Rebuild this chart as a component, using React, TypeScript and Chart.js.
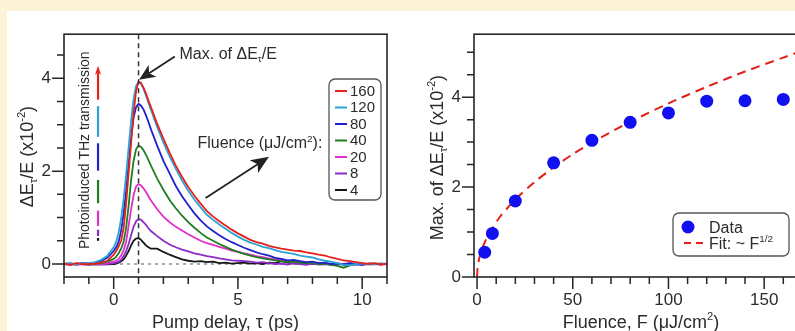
import React, { useEffect, useRef } from 'react';
import { Chart, registerables } from 'chart.js';

Chart.register(...registerables);

const FONT = '"Liberation Sans", Arial, Helvetica, sans-serif';
const INK = '#2b2b2b';
const PAGE_BG = '#fdf3d7';

// ---------------- Left panel: time traces ----------------
const TAU = [-2, -1.75, -1.5, -1.25, -1, -0.75, -0.5, -0.25, 0, 0.1, 0.2, 0.3, 0.4, 0.5, 0.6, 0.7, 0.8, 0.9, 1, 1.1, 1.2, 1.3, 1.4, 1.5, 1.75, 2, 2.25, 2.5, 2.75, 3, 3.25, 3.5, 3.75, 4, 4.25, 4.5, 4.75, 5, 5.25, 5.5, 5.75, 6, 6.25, 6.5, 6.75, 7, 7.25, 7.5, 7.75, 8, 8.25, 8.5, 8.75, 9, 9.25, 9.5, 9.75, 10, 10.25, 10.5, 10.75, 11];

const FLUENCE_LABELS = ['160', '120', '80', '40', '20', '8', '4'];
const SERIES_COLORS = ['#e6211b', '#2ba3d6', '#1f23c9', '#1e7d1e', '#e22fcc', '#8b2bc8', '#151515'];

const TRACE_160 = [0.01, -0.02, 0.02, -0.01, 0.0, 0.01, 0.03, 0.07,
  0.2, 0.28, 0.38, 0.5, 0.78, 1.3, 1.95, 2.6, 3.25, 3.72, 3.93, 3.9, 3.8, 3.67, 3.52, 3.38,
  3.02, 2.7, 2.4, 2.12, 1.88, 1.66, 1.47, 1.3, 1.14, 1.02, 0.92, 0.83, 0.74, 0.66, 0.59, 0.52, 0.47, 0.44, 0.39, 0.36, 0.33, 0.31, 0.29, 0.28, 0.25, 0.23, 0.2, 0.18, 0.14, 0.11, 0.08, 0.06, 0.04, 0.02, 0.0, 0.02, -0.01, 0.01];
const TRACE_120 = [0.0, 0.02, -0.01, 0.01, 0.02, 0.04, 0.09, 0.18,
  0.36, 0.48, 0.68, 0.98, 1.4, 1.92, 2.5, 3.08, 3.55, 3.84, 3.92, 3.88, 3.77, 3.63, 3.47, 3.32,
  2.95, 2.62, 2.32, 2.05, 1.8, 1.58, 1.39, 1.22, 1.06, 0.95, 0.85, 0.76, 0.67, 0.59, 0.52, 0.46, 0.42, 0.37, 0.34, 0.3, 0.26, 0.24, 0.22, 0.18, 0.16, 0.14, 0.1, 0.07, 0.05, 0.02, -0.02, -0.03, 0.0, 0.01, -0.01, 0.0, 0.01, -0.01];
const TRACE_80 = [-0.01, 0.01, 0.0, 0.02, 0.01, 0.03, 0.06, 0.14,
  0.28, 0.36, 0.48, 0.72, 1.08, 1.58, 2.15, 2.72, 3.15, 3.38, 3.45, 3.41, 3.33, 3.2, 3.06, 2.9,
  2.55, 2.22, 1.95, 1.68, 1.46, 1.27, 1.09, 0.94, 0.81, 0.71, 0.62, 0.54, 0.47, 0.41, 0.35, 0.3, 0.25, 0.21, 0.18, 0.13, 0.11, 0.08, 0.09, 0.06, 0.04, 0.05, 0.02, 0.03, 0.0, 0.01, -0.01, 0.02, 0.0, -0.02, 0.01, 0.0, -0.01, 0.01];
const TRACE_40 = [0.01, -0.01, 0.0, 0.01, -0.01, 0.01, 0.02, 0.05,
  0.11, 0.16, 0.23, 0.33, 0.48, 0.78, 1.25, 1.8, 2.22, 2.47, 2.55, 2.52, 2.45, 2.35, 2.24, 2.12,
  1.84, 1.6, 1.38, 1.2, 1.04, 0.9, 0.78, 0.67, 0.57, 0.5, 0.43, 0.37, 0.31, 0.26, 0.22, 0.18, 0.15, 0.12, 0.1, 0.08, 0.06, 0.04, 0.05, 0.03, 0.02, 0.03, 0.0, 0.01, -0.02, -0.04, -0.08, -0.03, 0.0, 0.01, -0.01, 0.0, 0.01, 0.0];
const TRACE_20 = [-0.01, 0.01, -0.02, 0.0, 0.01, -0.01, 0.0, 0.02,
  0.05, 0.07, 0.11, 0.18, 0.3, 0.48, 0.82, 1.18, 1.48, 1.67, 1.72, 1.69, 1.63, 1.55, 1.46, 1.37,
  1.18, 1.02, 0.9, 0.8, 0.72, 0.64, 0.57, 0.5, 0.45, 0.41, 0.37, 0.33, 0.29, 0.26, 0.23, 0.2, 0.17, 0.15, 0.12, 0.1, 0.09, 0.07, 0.05, 0.04, 0.03, 0.02, 0.03, 0.01, 0.0, 0.02, -0.01, 0.0, 0.01, -0.02, 0.0, 0.01, -0.01, 0.0];
const TRACE_8 = [0.0, -0.02, 0.01, -0.01, -0.02, 0.0, -0.01, 0.0,
  0.02, 0.03, 0.05, 0.09, 0.17, 0.28, 0.43, 0.62, 0.8, 0.92, 0.97, 0.95, 0.9, 0.84, 0.77, 0.71,
  0.6, 0.5, 0.42, 0.36, 0.31, 0.27, 0.23, 0.2, 0.17, 0.15, 0.12, 0.1, 0.08, 0.07, 0.06, 0.05, 0.03, 0.04, 0.02, 0.0, 0.01, -0.01, 0.02, 0.0, -0.02, 0.01, -0.01, 0.0, -0.02, 0.01, -0.01, 0.0, -0.02, 0.01, 0.0, -0.01, 0.01, -0.01];
const TRACE_4 = [0.01, 0.0, -0.01, 0.01, 0.0, -0.01, 0.0, -0.01,
  0.0, 0.01, 0.03, 0.06, 0.1, 0.18, 0.28, 0.4, 0.5, 0.55, 0.56, 0.52, 0.46, 0.4, 0.36, 0.33,
  0.33, 0.26, 0.2, 0.15, 0.1, 0.07, 0.05, 0.06, 0.04, 0.05, 0.02, 0.03, 0.01, 0.02, 0.03, 0.01, 0.02, 0.0, 0.03, 0.02, 0.06, 0.03, 0.01, 0.02, 0.0, 0.01, -0.01, 0.0, 0.01, -0.01, 0.0, 0.01, 0.0, -0.01, 0.01, 0.0, -0.01, 0.0];
const TRACES = [TRACE_160, TRACE_120, TRACE_80, TRACE_40, TRACE_20, TRACE_8, TRACE_4];

const PEAK_DELAY = 1;
const TAU_RANGE = [-2, 11];
const LEFT_Y_RANGE = [-0.28, 4.95];

// ---------------- Right panel: peak vs fluence ----------------
const FLUENCE = [4, 8, 20, 40, 60, 80, 100, 120, 140, 160];
const MAX_DE = [0.55, 0.97, 1.69, 2.54, 3.04, 3.44, 3.65, 3.91, 3.92, 3.95];
const FIT_F = [0, 0.25, 0.5, 1, 2, 3, 4, 6, 8, 12, 16, 20, 30, 40, 50, 60, 80, 100, 120, 140, 160, 175];
const FIT_Y = [0, 0.19, 0.27, 0.39, 0.55, 0.67, 0.77, 0.95, 1.09, 1.34, 1.54, 1.73, 2.11, 2.44, 2.73, 2.99, 3.45, 3.86, 4.23, 4.57, 4.88, 5.11];
const F_RANGE = [-1.6, 175];
const RIGHT_Y_RANGE = [0, 5.4];

// ---------------- helpers ----------------
type Seg = [string, number]; // 0 normal, 1 superscript, -1 subscript

function drawRich(ctx: CanvasRenderingContext2D, segs: Seg[], x: number, y: number, size: number, align: 'left' | 'center', color = INK) {
  const small = size * 0.62;
  const widths = segs.map(([t, m]) => {
    ctx.font = `${m ? small : size}px ${FONT}`;
    return ctx.measureText(t).width;
  });
  const total = widths.reduce((p, c) => p + c, 0);
  let cx = align === 'center' ? x - total / 2 : x;
  ctx.textAlign = 'left';
  ctx.textBaseline = 'alphabetic';
  ctx.fillStyle = color;
  segs.forEach(([t, m], i) => {
    ctx.font = `${m ? small : size}px ${FONT}`;
    const dy = m === 1 ? -size * 0.42 : m === -1 ? size * 0.22 : 0;
    ctx.fillText(t, cx, y + dy);
    cx += widths[i];
  });
}

function drawArrow(ctx: CanvasRenderingContext2D, x1: number, y1: number, x2: number, y2: number, color: string, lw: number, headLen: number, headHalf: number) {
  const ang = Math.atan2(y2 - y1, x2 - x1);
  const c = Math.cos(ang), s = Math.sin(ang);
  const bx = x2 - headLen * c, by = y2 - headLen * s;
  const nx = x2 - headLen * 0.75 * c, ny = y2 - headLen * 0.75 * s;
  ctx.strokeStyle = color;
  ctx.lineWidth = lw;
  ctx.setLineDash([]);
  ctx.beginPath();
  ctx.moveTo(x1, y1);
  ctx.lineTo(nx, ny);
  ctx.stroke();
  ctx.fillStyle = color;
  ctx.beginPath();
  ctx.moveTo(x2, y2);
  ctx.lineTo(bx + headHalf * s, by - headHalf * c);
  ctx.lineTo(nx, ny);
  ctx.lineTo(bx - headHalf * s, by + headHalf * c);
  ctx.closePath();
  ctx.fill();
}

function drawFrameAndTicks(chart: any, xMajor: (v: number) => boolean, yMajor: (v: number) => boolean) {
  const { ctx, chartArea: a, scales: { x, y } } = chart;
  ctx.save();
  ctx.setLineDash([]);
  ctx.strokeStyle = '#262626';
  ctx.lineWidth = 1.6;
  ctx.strokeRect(a.left, a.top, a.right - a.left, a.bottom - a.top);
  ctx.lineWidth = 1.5;
  ctx.beginPath();
  x.ticks.forEach((t: any) => {
    const px = x.getPixelForValue(t.value);
    const len = xMajor(t.value) ? 12 : 7;
    ctx.moveTo(px, a.bottom);
    ctx.lineTo(px, a.bottom + len);
  });
  y.ticks.forEach((t: any) => {
    const py = y.getPixelForValue(t.value);
    const len = yMajor(t.value) ? 12 : 7;
    ctx.moveTo(a.left - len, py);
    ctx.lineTo(a.left, py);
  });
  ctx.stroke();
  ctx.restore();
}

const isMult = (v: number, m: number) => Math.abs(v / m - Math.round(v / m)) < 1e-6;

// Annotation anchors (data coordinates of the left panel)
const MAX_TEXT_AT = { x: 2.65, y: 4.42 };
const MAX_ARROW = { from: { x: 2.46, y: 4.47 }, to: { x: 1.02, y: 3.97 } };
const FLU_TEXT_AT = { x: 3.37, y: 2.49 };
const FLU_ARROW = { from: { x: 3.7, y: 1.42 }, to: { x: 6.25, y: 2.31 } };
const PHOTO_TEXT_AT = { x: -1.0, y: 2.45 };
const TREND_X = -0.63;
// segments of the coloured "photoinduced" arrow, bottom (4) to top (160)
const TREND_SEGMENTS: [number, number][] = [[0.5, 0.56], [0.6, 0.74], [0.82, 1.15], [1.31, 1.81], [2.01, 2.6], [2.74, 3.4], [3.54, 4.27]];

const leftDecor = {
  id: 'leftDecor',
  beforeDatasetsDraw(chart: any) {
    const { ctx, chartArea: a, scales: { y } } = chart;
    ctx.save();
    ctx.setLineDash([3, 4]);
    ctx.strokeStyle = '#555';
    ctx.lineWidth = 1.2;
    const y0 = y.getPixelForValue(0);
    ctx.beginPath();
    ctx.moveTo(a.left, y0);
    ctx.lineTo(a.right, y0);
    ctx.stroke();
    ctx.restore();
  },
  afterDatasetsDraw(chart: any) {
    const { ctx, chartArea: a, scales: { x, y } } = chart;
    ctx.save();
    // vertical dashed line at the peak
    ctx.setLineDash([5, 4]);
    ctx.strokeStyle = '#333';
    ctx.lineWidth = 1.5;
    const px = x.getPixelForValue(PEAK_DELAY);
    ctx.beginPath();
    ctx.moveTo(px, a.top);
    ctx.lineTo(px, a.bottom);
    ctx.stroke();
    ctx.restore();

    drawFrameAndTicks(chart, (v) => isMult(v, 5), (v) => isMult(v, 2));

    ctx.save();
    // Max. of annotation
    drawRich(ctx, [['Max. of ΔE', 0], ['τ', -1], ['/E', 0]], x.getPixelForValue(MAX_TEXT_AT.x), y.getPixelForValue(MAX_TEXT_AT.y), 16, 'left');
    drawArrow(ctx, x.getPixelForValue(MAX_ARROW.from.x), y.getPixelForValue(MAX_ARROW.from.y), x.getPixelForValue(MAX_ARROW.to.x), y.getPixelForValue(MAX_ARROW.to.y), '#222', 1.8, 16, 7);
    // Fluence annotation
    drawRich(ctx, [['Fluence (μJ/cm', 0], ['2', 1], ['):', 0]], x.getPixelForValue(FLU_TEXT_AT.x), y.getPixelForValue(FLU_TEXT_AT.y), 16, 'left');
    drawArrow(ctx, x.getPixelForValue(FLU_ARROW.from.x), y.getPixelForValue(FLU_ARROW.from.y), x.getPixelForValue(FLU_ARROW.to.x), y.getPixelForValue(FLU_ARROW.to.y), '#222', 1.8, 18, 7.5);

    // rotated "Photoinduced THz transmission"
    ctx.save();
    ctx.translate(x.getPixelForValue(PHOTO_TEXT_AT.x), y.getPixelForValue(PHOTO_TEXT_AT.y));
    ctx.rotate(-Math.PI / 2);
    drawRich(ctx, [['Photoinduced THz transmission', 0]], 0, 0, 14, 'center');
    ctx.restore();

    // coloured dashed trend arrow
    const tx = x.getPixelForValue(TREND_X);
    TREND_SEGMENTS.forEach(([lo, hi], i) => {
      const color = SERIES_COLORS[SERIES_COLORS.length - 1 - i];
      const y1 = y.getPixelForValue(lo), y2 = y.getPixelForValue(hi);
      if (i === TREND_SEGMENTS.length - 1) {
        drawArrow(ctx, tx, y1, tx, y2, color, 2.2, 9, 3);
      } else {
        ctx.setLineDash([]);
        ctx.strokeStyle = color;
        ctx.lineWidth = 2.2;
        ctx.beginPath();
        ctx.moveTo(tx, y1);
        ctx.lineTo(tx, y2);
        ctx.stroke();
      }
    });

    // legend box
    const bx = 322, by = 68, bw = 52, bh = 121;
    ctx.setLineDash([]);
    ctx.fillStyle = '#fff';
    ctx.strokeStyle = '#555';
    ctx.lineWidth = 1.3;
    ctx.beginPath();
    (ctx as any).roundRect(bx, by, bw, bh, 6);
    ctx.fill();
    ctx.stroke();
    FLUENCE_LABELS.forEach((lab, i) => {
      const ry = 80 + i * 16.5;
      ctx.strokeStyle = SERIES_COLORS[i];
      ctx.lineWidth = 2;
      ctx.beginPath();
      ctx.moveTo(328, ry);
      ctx.lineTo(340, ry);
      ctx.stroke();
      ctx.fillStyle = INK;
      ctx.font = `15px ${FONT}`;
      ctx.textAlign = 'left';
      ctx.textBaseline = 'middle';
      ctx.fillText(lab, 343, ry + 0.5);
    });
    ctx.restore();
  },
  afterDraw(chart: any) {
    const { ctx, chartArea: a } = chart;
    ctx.save();
    drawRich(ctx, [['Pump delay, τ (ps)', 0]], (a.left + a.right) / 2, 317, 18, 'center');
    ctx.translate(26, (a.top + a.bottom) / 2 + 1);
    ctx.rotate(-Math.PI / 2);
    drawRich(ctx, [['ΔE', 0], ['τ', -1], ['/E (x10', 0], ['-2', 1], [')', 0]], 0, 0, 18, 'center');
    ctx.restore();
  },
};

const rightDecor = {
  id: 'rightDecor',
  afterDatasetsDraw(chart: any) {
    const { ctx } = chart;
    drawFrameAndTicks(chart, (v) => isMult(v, 50), (v) => isMult(v, 2));
    ctx.save();
    const bx = 273, by = 202, bw = 116, bh = 43;
    ctx.fillStyle = '#fff';
    ctx.strokeStyle = '#555';
    ctx.lineWidth = 1.3;
    ctx.beginPath();
    (ctx as any).roundRect(bx, by, bw, bh, 6);
    ctx.fill();
    ctx.stroke();
    ctx.fillStyle = '#1010f0';
    ctx.beginPath();
    ctx.arc(288, 216, 6.5, 0, Math.PI * 2);
    ctx.fill();
    ctx.fillStyle = INK;
    ctx.font = `16px ${FONT}`;
    ctx.textAlign = 'left';
    ctx.textBaseline = 'alphabetic';
    ctx.fillText('Data', 309, 222);
    ctx.strokeStyle = '#e0201a';
    ctx.lineWidth = 2;
    ctx.setLineDash([7, 5]);
    ctx.beginPath();
    ctx.moveTo(284, 232);
    ctx.lineTo(303, 232);
    ctx.stroke();
    ctx.setLineDash([]);
    drawRich(ctx, [['Fit: ~ F', 0], ['1/2', 1]], 309, 238, 16, 'left');
    ctx.restore();
  },
  afterDraw(chart: any) {
    const { ctx, chartArea: a, scales: { x } } = chart;
    ctx.save();
    drawRich(ctx, [['Fluence, F (μJ/cm', 0], ['2', 1], [')', 0]], 241, 317, 18, 'center');
    ctx.translate(43, (a.top + a.bottom) / 2 + 2);
    ctx.rotate(-Math.PI / 2);
    drawRich(ctx, [['Max. of ΔE', 0], ['τ', -1], ['/E (x10', 0], ['-2', 1], [')', 0]], 0, 0, 18, 'center');
    ctx.restore();
  },
};

function tickFont() {
  return { family: FONT, size: 17 };
}

function leftConfig(): any {
  return {
    type: 'line',
    data: {
      datasets: TRACES.map((vals, i) => ({
        label: FLUENCE_LABELS[i],
        data: TAU.map((t, j) => ({ x: t, y: vals[j] })),
        borderColor: SERIES_COLORS[i],
        borderWidth: 1.8,
        pointRadius: 0,
        tension: 0,
        fill: false,
      })),
    },
    options: {
      responsive: false,
      animation: false,
      devicePixelRatio: 1,
      layout: { padding: { top: 3, right: 4, left: 0, bottom: 0 } },
      plugins: { legend: { display: false }, tooltip: { enabled: false } },
      scales: {
        x: {
          type: 'linear',
          min: TAU_RANGE[0],
          max: TAU_RANGE[1],
          grid: { display: false, drawTicks: false },
          border: { display: false },
          ticks: {
            stepSize: 1, includeBounds: false, autoSkip: false, maxRotation: 0, padding: 13,
            color: INK, font: tickFont(),
            callback: (v: number) => (isMult(v, 5) ? String(v) : ''),
          },
          afterFit: (s: any) => { s.height = 54; },
        },
        y: {
          type: 'linear',
          min: LEFT_Y_RANGE[0],
          max: LEFT_Y_RANGE[1],
          grid: { display: false, drawTicks: false },
          border: { display: false },
          ticks: {
            stepSize: 0.5, includeBounds: false, autoSkip: false, padding: 13,
            color: INK, font: tickFont(),
            callback: (v: number) => (isMult(v, 2) ? String(v) : ''),
          },
          afterFit: (s: any) => { s.width = 57; },
        },
      },
    },
    plugins: [leftDecor],
  };
}

function rightConfig(): any {
  return {
    type: 'scatter',
    data: {
      datasets: [
        {
          label: 'Data',
          data: FLUENCE.map((f, i) => ({ x: f, y: MAX_DE[i] })),
          backgroundColor: '#1010f0',
          borderColor: '#1010f0',
          pointRadius: 6.5,
          borderWidth: 0,
          showLine: false,
        },
        {
          label: 'Fit: ~ F^1/2',
          data: FIT_F.map((f, i) => ({ x: f, y: FIT_Y[i] })),
          borderColor: '#e0201a',
          borderWidth: 2,
          borderDash: [9, 6],
          pointRadius: 0,
          showLine: true,
          tension: 0.3,
          fill: false,
        },
      ],
    },
    options: {
      responsive: false,
      animation: false,
      devicePixelRatio: 1,
      layout: { padding: { top: 4, right: 8, left: 0, bottom: 0 } },
      plugins: { legend: { display: false }, tooltip: { enabled: false } },
      scales: {
        x: {
          type: 'linear',
          min: F_RANGE[0],
          max: F_RANGE[1],
          grid: { display: false, drawTicks: false },
          border: { display: false },
          ticks: {
            stepSize: 10, includeBounds: false, autoSkip: false, maxRotation: 0, padding: 13,
            color: INK, font: tickFont(),
            callback: (v: number) => (isMult(v, 50) ? String(v) : ''),
          },
          afterFit: (s: any) => { s.height = 54; },
        },
        y: {
          type: 'linear',
          min: RIGHT_Y_RANGE[0],
          max: RIGHT_Y_RANGE[1],
          grid: { display: false, drawTicks: false },
          border: { display: false },
          ticks: {
            stepSize: 0.5, includeBounds: false, autoSkip: false, padding: 13,
            color: INK, font: tickFont(),
            callback: (v: number) => (isMult(v, 2) ? String(v) : ''),
          },
          afterFit: (s: any) => { s.width = 74; },
        },
      },
    },
    plugins: [rightDecor],
  };
}

export default function App() {
  const leftRef = useRef<HTMLCanvasElement>(null);
  const rightRef = useRef<HTMLCanvasElement>(null);
  useEffect(() => {
    const c1 = new Chart(leftRef.current as HTMLCanvasElement, leftConfig());
    const c2 = new Chart(rightRef.current as HTMLCanvasElement, rightConfig());
    return () => {
      c1.destroy();
      c2.destroy();
    };
  }, []);
  return (
    <div style={{ position: 'fixed', left: 0, top: 0, width: 795, height: 331, overflow: 'hidden', background: PAGE_BG }}>
      <div style={{ position: 'absolute', left: 7, top: 11, width: 788, height: 320, background: '#fff' }} />
      <canvas ref={leftRef} width={393} height={320} style={{ position: 'absolute', left: 7, top: 11, width: 393, height: 320 }} />
      <canvas ref={rightRef} width={420} height={320} style={{ position: 'absolute', left: 400, top: 11, width: 420, height: 320 }} />
    </div>
  );
}
